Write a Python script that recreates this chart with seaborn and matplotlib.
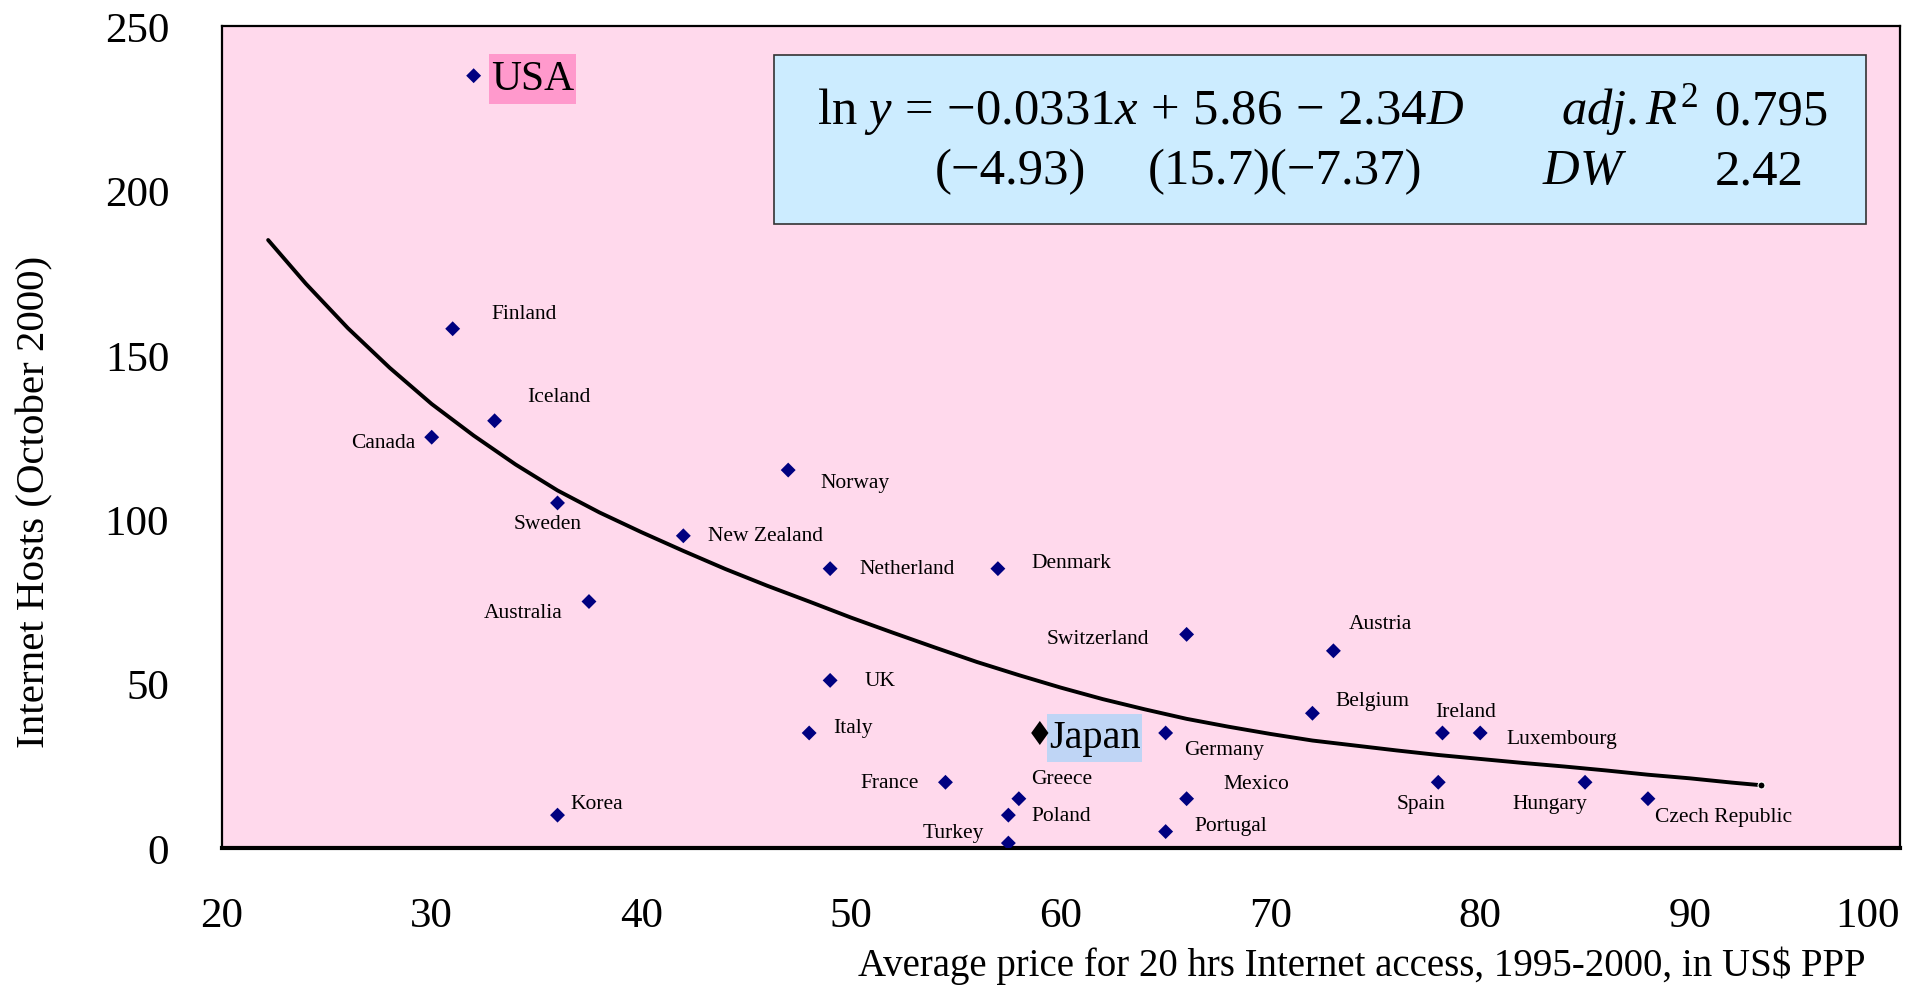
import numpy as np
import pandas as pd
import matplotlib
matplotlib.use("Agg")
import matplotlib.pyplot as plt
import seaborn as sns
from matplotlib.patches import Rectangle
from matplotlib.path import Path

# ---------------- data ----------------
countries = ["USA", "Finland", "Iceland", "Canada", "Sweden", "Australia",
             "New Zealand", "Norway", "Netherland", "Denmark", "UK", "Italy",
             "Korea", "France", "Greece", "Poland", "Turkey", "Japan",
             "Germany", "Switzerland", "Mexico", "Portugal", "Austria",
             "Belgium", "Ireland", "Luxembourg", "Spain", "Hungary",
             "Czech Republic"]
price = [32.0, 31.0, 33.0, 30.0, 36.0, 37.5,
         42.0, 47.0, 49.0, 57.0, 49.0, 48.0,
         36.0, 54.5, 58.0, 57.5, 57.5, 59.0,
         65.0, 66.0, 66.0, 65.0, 73.0,
         72.0, 78.2, 80.0, 78.0, 85.0,
         88.0]
hosts = [235, 158, 130, 125, 105, 75,
         95, 115, 85, 85, 51, 35,
         10, 20, 15, 10, 1.5, 35,
         35, 65, 15, 5, 60,
         41, 35, 35, 20, 20,
         15]

# fitted curve
fit_x = [22.2, 24, 26, 28, 30, 32, 34, 36, 38, 40, 42, 44, 46, 48, 50, 52,
         54, 56, 58, 60, 62, 64, 66, 68, 70, 72, 74, 76, 78, 80, 82, 84, 86,
         88, 90, 92, 93.4]
fit_y = [185.0, 171.7, 158.2, 146.1, 135.1, 125.5, 116.7, 108.8, 102.1,
         96.1, 90.4, 84.9, 79.8, 75.0, 70.1, 65.5, 61.0, 56.6, 52.6, 48.8,
         45.3, 42.2, 39.3, 36.9, 34.7, 32.7, 31.2, 29.7, 28.3, 27.1, 25.9,
         24.8, 23.6, 22.3, 21.2, 19.9, 19.1]

x_ticks = [20, 30, 40, 50, 60, 70, 80, 90, 100]
y_ticks = [0, 50, 100, 150, 200, 250]

x_label = "Average price for 20 hrs Internet access, 1995-2000, in US$ PPP"
y_label = "Internet Hosts (October 2000)"

# ---------------- layout (label offsets in pixels, ha) ----------------
label_layout = {
    "Finland": (39, 15, "left"), "Iceland": (33, 24, "left"),
    "Canada": (-16, -5, "right"), "Sweden": (-10, -21, "center"),
    "Australia": (-26, -11, "right"), "New Zealand": (25, 0, "left"),
    "Norway": (32, -12, "left"), "Netherland": (29, 0, "left"),
    "Denmark": (34, 6, "left"), "UK": (34, 0, "left"),
    "Italy": (24, 5, "left"), "Korea": (13, 12, "left"),
    "France": (-27, 0, "right"), "Greece": (12, 20, "left"),
    "Poland": (23, 0, "left"), "Turkey": (-24, 11, "right"),
    "Germany": (18, -17, "left"), "Switzerland": (-37, -4, "right"),
    "Mexico": (37, 15, "left"), "Portugal": (29, 6, "left"),
    "Austria": (15, 27, "left"), "Belgium": (23, 13, "left"),
    "Ireland": (-7, 21, "left"), "Luxembourg": (26, -6, "left"),
    "Spain": (-17, -21, "center"), "Hungary": (2, -21, "right"),
    "Czech Republic": (7, -18, "left"),
}

sns.set_theme(style="white")
plt.rcParams["font.family"] = ["Liberation Serif", "DejaVu Serif"]
plt.rcParams["mathtext.fontset"] = "custom"
plt.rcParams["mathtext.rm"] = "Liberation Serif"
plt.rcParams["mathtext.it"] = "Liberation Serif:italic"
plt.rcParams["mathtext.bf"] = "Liberation Serif:bold"

W, H = 1921, 987
PT = 0.72  # points per pixel at dpi 100
fig = plt.figure(figsize=(W / 100, H / 100), dpi=100)
fig.patch.set_facecolor("white")
ax = fig.add_axes([222 / W, 1 - 849 / H, (1899.6 - 222) / W, (849 - 27.4) / H])
ax.set_facecolor("#FFD9EC")

df = pd.DataFrame({"country": countries, "price": price, "hosts": hosts})

diamond = Path([(0, 1), (1, 0), (0, -1), (-1, 0), (0, 1)],
               [Path.MOVETO, Path.LINETO, Path.LINETO, Path.LINETO, Path.CLOSEPOLY])
tall_diamond = Path([(0, 1), (0.72, 0), (0, -1), (-0.72, 0), (0, 1)],
                    [Path.MOVETO, Path.LINETO, Path.LINETO, Path.LINETO, Path.CLOSEPOLY])

sns.lineplot(x=fit_x, y=fit_y, ax=ax, color="black", linewidth=2.8,
             sort=False, estimator=None, zorder=2,
             marker="o", markersize=5, markevery=[len(fit_x) - 1])
sns.scatterplot(data=df, x="price", y="hosts", ax=ax, marker=diamond, s=115,
                color="#000080", edgecolor="none", linewidth=0, zorder=3)
jp = df[df["country"] == "Japan"]
sns.scatterplot(data=jp, x="price", y="hosts", ax=ax, marker=tall_diamond,
                s=300, color="black", edgecolor="none", linewidth=0, zorder=4)

ax.set_xlim(20, 100)
ax.set_ylim(0, 250)
ax.set_xticks(x_ticks)
ax.set_yticks(y_ticks)
ax.tick_params(axis="both", direction="in", length=16 * PT, width=1.0,
               color="black", labelsize=31, labelcolor="black")
ax.tick_params(axis="x", pad=35)
ax.tick_params(axis="y", pad=38)
ax.xaxis.get_majorticklabels()[-1].set_horizontalalignment("right")
ax.set_xlabel("")
ax.set_ylabel("")
for name, sp in ax.spines.items():
    sp.set_visible(True)
    sp.set_color("black")
    sp.set_linewidth(1.6)
ax.spines["bottom"].set_linewidth(3.0)

# axis titles
fig.text(1866 / W, 1 - 966 / H, x_label, ha="right", va="center",
         fontsize=28, color="black")
fig.text(35 / W, 1 - 502 / H, y_label, ha="center", va="center",
         rotation=90, fontsize=29.5, color="black")

# country labels
for _, row in df.iterrows():
    name = row["country"]
    if name in label_layout:
        dx, dy, ha = label_layout[name]
        ax.annotate(name, (row["price"], row["hosts"]), xytext=(dx * PT, dy * PT),
                    textcoords="offset points", ha=ha, va="center",
                    fontsize=15.5, color="black", zorder=5)


def label_box(padx, pady):
    def _box(x0, y0, width, height, mutation_size):
        px, py = padx * mutation_size, pady * mutation_size
        x0, y0 = x0 - px, y0 - py
        x1, y1 = x0 + width + 2 * px, y0 + height + 2 * py
        return Path([(x0, y0), (x1, y0), (x1, y1), (x0, y1), (x0, y0)],
                    [Path.MOVETO, Path.LINETO, Path.LINETO, Path.LINETO,
                     Path.CLOSEPOLY])
    return _box


usa = df[df["country"] == "USA"].iloc[0]
ax.annotate("USA", (usa["price"], usa["hosts"]), xytext=(17 * PT, -3 * PT),
            textcoords="offset points", ha="left", va="center", fontsize=30,
            color="black", zorder=5,
            bbox=dict(boxstyle=label_box(0.05, 0.14), facecolor="#FF99CC",
                      edgecolor="none"))
jpr = jp.iloc[0]
ax.annotate("Japan", (jpr["price"], jpr["hosts"]), xytext=(9 * PT, -5 * PT),
            textcoords="offset points", ha="left", va="center", fontsize=29,
            color="black", zorder=3.5,
            bbox=dict(boxstyle=label_box(0.04, 0.14), facecolor="#BFD5F5",
                      edgecolor="none"))

# regression box
box = Rectangle((774 / W, 1 - 225 / H), (1866 - 774) / W, (225 - 56) / H,
                transform=fig.transFigure, facecolor="#CCECFF",
                edgecolor="#333333", linewidth=1.2, zorder=6)
fig.patches.append(box)


def ftext(px, py, s, ha="left", **kw):
    fig.text(px / W, 1 - py / H, s, ha=ha, va="center", fontsize=36.5,
             color="black", zorder=7, **kw)


ftext(817, 112, r"$\mathrm{ln}\ y\,=\,{-}0.0331x\,+\,5.86\,-\,2.34D$")
ftext(1561, 110, r"$adj.R^2$")
ftext(1714, 112, "0.795")
ftext(935, 172, "(\u22124.93)")
ftext(1148, 172, "(15.7)(\u22127.37)")
ftext(1542, 172, r"$DW$")
ftext(1715, 172, "2.42")

fig.savefig("out.png", dpi=100, facecolor="white")
